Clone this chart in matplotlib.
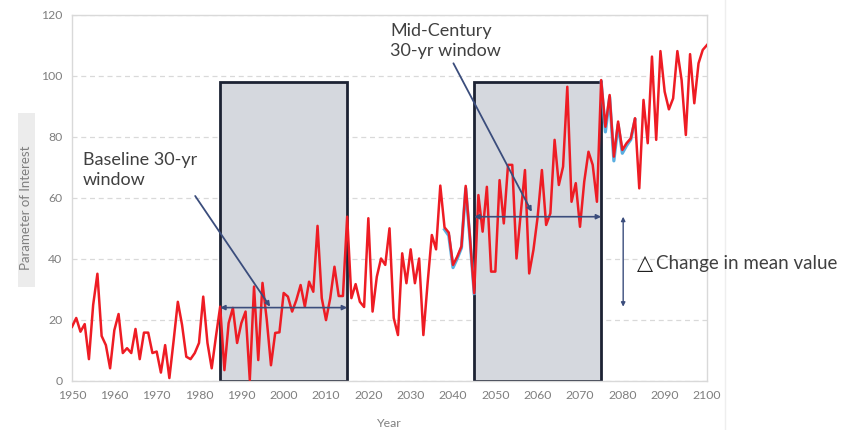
import matplotlib
import matplotlib.pyplot as plt
import numpy as np
from matplotlib.patches import Rectangle
from matplotlib.lines import Line2D

plt.rcParams['font.family'] = ['Lato', 'DejaVu Sans']

# values, one per year
years = np.arange(1950, 2101)
values = [17.6, 20.5, 16, 18.5, 7, 24.8, 35, 14.6, 11.6, 4,          # 1950s
          16.5, 21.8, 9, 10.6, 9, 16.9, 7, 15.7, 15.7, 9,            # 1960s
          9.5, 2.6, 11.6, 0.8, 13, 25.8, 18.2, 7.8, 7, 9,            # 1970s
          12.3, 27.5, 12.3, 4, 14.4, 24.2, 3.4, 18.8, 23.8, 12.3,    # 1980s
          18.8, 22.6, 0.2, 30.8, 6.7, 32, 20, 5, 15.6, 15.8,         # 1990s
          28.7, 27.5, 22.6, 26.4, 31.3, 24.2, 32.4, 29.1, 50.7, 27,  # 2000s
          19.8, 27, 37.3, 27.7, 27.7, 53.7, 27, 31.6, 25.8, 24.1,    # 2010s
          53.2, 22.6, 34, 40, 37.9, 49.9, 20.5, 14.9, 41.7, 31.9,    # 2020s
          43, 31.9, 40, 14.9, 31.9, 47.7, 43, 63.9, 50.2, 48.5,      # 2030s
          37.9, 40.6, 44, 63.8, 47, 28.6, 60.8, 48.8, 63.5, 35.7,    # 2040s
          35.7, 65.7, 51.5, 70.7, 70.7, 40, 54.8, 69, 35.1, 42.8,    # 2050s
          53.7, 69, 51, 54.8, 78.9, 64.1, 70.1, 96.3, 58.6, 64.7,    # 2060s
          50.4, 65.2, 75, 70.7, 58.6, 98.5, 83.2, 93.6, 73.4, 84.9,  # 2070s
          75.6, 77.8, 79.4, 86, 63, 92, 77.8, 106.2, 78.9, 108,      # 2080s
          94.7, 88.9, 92.5, 108, 98.5, 80.5, 107, 90.9, 104, 108.4,  # 2090s
          110]

# second (blue) series that only peeks out in two short pieces
blue_years_a = [2038, 2039, 2040, 2041, 2042, 2043, 2044, 2045]
blue_vals_a = [49.5, 47.5, 37, 40, 43.5, 63, 46.5, 28.5]
blue_years_b = [2075, 2076, 2077, 2078, 2079, 2080, 2081, 2082, 2083]
blue_vals_b = [98, 81.5, 93, 72, 84, 74.5, 77, 79, 85.5]

windows = [(1985, 2015), (2045, 2075)]
window_top = 98
window_means = [23.9, 53.7]

fig = plt.figure(figsize=(8.43, 4.30), dpi=100)
ax = fig.add_axes([72 / 843, 1 - 380.5 / 430, 635 / 843, 366 / 430])

grey_txt = '#7f7f7f'
navy = '#3b4d7c'
txt = '#404040'

ax.set_xlim(1950, 2100)
ax.set_ylim(0, 120)
ax.set_xticks(np.arange(1950, 2101, 10))
ax.set_yticks(np.arange(0, 121, 20))
ax.tick_params(length=0, labelsize=8.8, colors=grey_txt, pad=7)
for s in ax.spines.values():
    s.set_color('#d9d9d9')
    s.set_linewidth(1)
ax.grid(axis='y', color='#d9d9d9', linestyle=(0, (4, 3)), linewidth=0.9)
ax.set_axisbelow(True)

# the two 30-yr windows
for (a, b) in windows:
    ax.add_patch(Rectangle((a, 0), b - a, window_top, facecolor='#d5d8de',
                           edgecolor='#1c2233', linewidth=2, zorder=2))

ax.plot(blue_years_a, blue_vals_a, color='#5aaee0', linewidth=2.3, zorder=3)
ax.plot(blue_years_b, blue_vals_b, color='#5aaee0', linewidth=2.3, zorder=3)
ax.plot(years, values, color='#ee1c24', linewidth=1.8, zorder=4)

# mean arrows across each window
for (a, b), m in zip(windows, window_means):
    ax.annotate('', xy=(a, m), xytext=(b, m), zorder=5,
                arrowprops=dict(arrowstyle='<|-|>', color=navy, lw=1.2,
                                mutation_scale=7, shrinkA=0, shrinkB=0))

# labels with pointer lines
ax.annotate('', xy=(1996.8, 24.2), xytext=(1979.1, 60.5), zorder=5,
            arrowprops=dict(arrowstyle='-|>', color=navy, lw=1.3,
                            mutation_scale=7, shrinkA=0, shrinkB=0))
ax.text(1952.6, 63.0, 'Baseline 30-yr\nwindow', fontsize=13, color=txt,
        va='bottom', ha='left', linespacing=1.3, zorder=6)

ax.annotate('', xy=(2058.6, 55.3), xytext=(2040.1, 104), zorder=5,
            arrowprops=dict(arrowstyle='-|>', color=navy, lw=1.3,
                            mutation_scale=7, shrinkA=0, shrinkB=0),
            annotation_clip=False)
ax.text(2025.1, 105.5, 'Mid-Century\n30-yr window', fontsize=13, color=txt,
        va='bottom', ha='left', linespacing=1.3, zorder=6, clip_on=False)

# change in mean
ax.annotate('', xy=(2080.2, 53.7), xytext=(2080.2, 24.2), zorder=5,
            arrowprops=dict(arrowstyle='<|-|>', color=navy, lw=1,
                            mutation_scale=6, shrinkA=0, shrinkB=0))
ax.text(2083.5, 38.4, '\u25b3', fontsize=15, color='#202020',
        va='center', ha='left', zorder=6, family='DejaVu Sans')
ax.text(2088.0, 38.4, 'Change in mean value', fontsize=13.5, color=txt,
        va='center', ha='left', zorder=6, clip_on=False)

ax.set_xlabel('Year', fontsize=8.8, color=grey_txt, labelpad=12)
fig.text(26 / 843, 1 - 208 / 430, 'Parameter of Interest', rotation=90,
         fontsize=9.5, color=grey_txt, ha='center', va='center')
fig.add_artist(Rectangle((18 / 843, 1 - 287 / 430), 17 / 843, 174 / 430,
                         transform=fig.transFigure, facecolor='#ececec',
                         edgecolor='none', zorder=-1))
fig.add_artist(Line2D([725 / 843, 725 / 843], [0, 1], transform=fig.transFigure,
                      color='#eeeeee', linewidth=1, zorder=-1))

fig.savefig('out.png', dpi=100)
